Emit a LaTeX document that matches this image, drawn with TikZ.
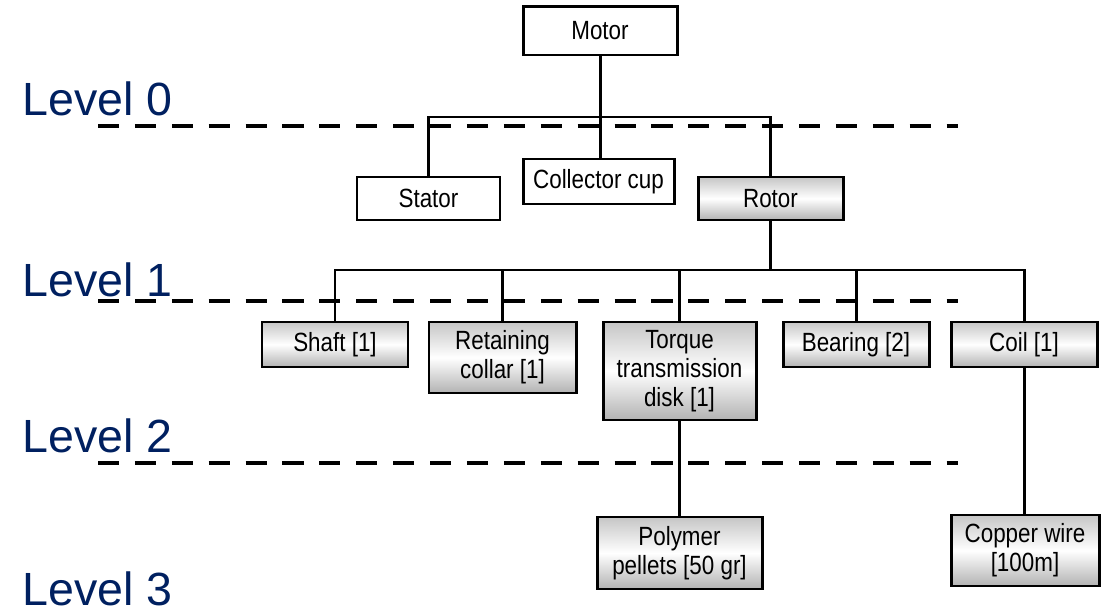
\documentclass[tikz,border=0pt]{standalone}
\usepackage{fontspec}
\setmainfont{Liberation Sans}
\newfontfamily\boxfont{Liberation Sans}[FakeStretch=0.85]
\definecolor{levelblue}{RGB}{0,32,96}

\tikzset{
  part/.style={draw, line width=1.7pt, fill=white, inner sep=0pt, align=center,
    font=\boxfont\fontsize{15}{16.5}\selectfont},
  subpart/.style={part, top color=gray!45, bottom color=gray!60, middle color=white},
  boxsize/.style 2 args={minimum width=#1*0.02cm, minimum height=#2*0.02cm},
  link/.style={line width=1.7pt},
  levelline/.style={line width=2.8pt, dash pattern=on 12pt off 9pt},
  levelname/.style={anchor=base west, inner sep=0pt, text=levelblue,
    font=\fontsize{26.5}{30}\selectfont},
}

\begin{document}
\begin{tikzpicture}[x=0.02cm, y=-0.02cm]
    \useasboundingbox (0,0) rectangle (1102,614);

    % Level names on the left
    \node[levelname] (lvl0) at (22,116) {Level 0};
    \node[levelname] (lvl1) at (22,297) {Level 1};
    \node[levelname] (lvl2) at (22,453) {Level 2};
    \node[levelname] (lvl3) at (22,605) {Level 3};

    % Dashed level separators
    \coordinate (dash0w) at (98,126);
    \coordinate (dash0e) at (958,126);
    \coordinate (dash1w) at (98,301);
    \coordinate (dash1e) at (958,301);
    \coordinate (dash2w) at (98,463);
    \coordinate (dash2e) at (958,463);
    \draw[levelline] (dash0w) -- (dash0e);
    \draw[levelline] (dash1w) -- (dash1e);
    \draw[levelline] (dash2w) -- (dash2e);

    % Level 0
    \node[part, boxsize={154}{48}] (motor) at (600,31) {Motor};

    % Level 1
    \node[part, boxsize={143}{43}] (stator) at (428.5,198.5) {Stator};
    \node[part, boxsize={151}{45}] (collector) at (598.5,181.5) {Collector cup};
    \node[subpart, boxsize={145}{43}] (rotor) at (770.5,198.5) {Rotor};

    % Level 2
    \node[subpart, boxsize={146}{45}] (shaft) at (335,344.5) {Shaft [1]};
    \node[subpart, boxsize={147}{71}] (retain) at (502.5,357.5) {Retaining\\collar [1]};
    \node[subpart, boxsize={153}{98}] (torque) at (679.5,371) {Torque\\transmission\\disk [1]};
    \node[subpart, boxsize={146}{45}] (bearing) at (856,344.5) {Bearing [2]};
    \node[subpart, boxsize={146}{45}] (coil) at (1024,344.5) {Coil [1]};

    % Level 3
    \node[subpart, boxsize={165}{72}] (polymer) at (679.5,553) {Polymer\\pellets [50 gr]};
    \node[subpart, boxsize={148}{71}] (copper) at (1025,550.5) {Copper wire\\{}[100m]};

    % Tree connectors
    \coordinate (bus0) at (600,117);
    \coordinate (bus1) at (683,270);
    \draw[link] (motor.south) -- (motor.south |- collector.north);
    \draw[link] (stator.north) |- (bus0) -| (rotor.north);
    \draw[link] (rotor.south) -- (rotor.south |- bus1);
    \draw[link] (shaft.north) |- (bus1) -| (coil.north);
    \draw[link] (retain.north) -- (retain.north |- bus1);
    \draw[link] (torque.north) -- (torque.north |- bus1);
    \draw[link] (bearing.north) -- (bearing.north |- bus1);
    \draw[link] (torque.south) -- (polymer.north);
    \draw[link] (coil.south) -- (coil.south |- copper.north);

\end{tikzpicture}
\end{document}
